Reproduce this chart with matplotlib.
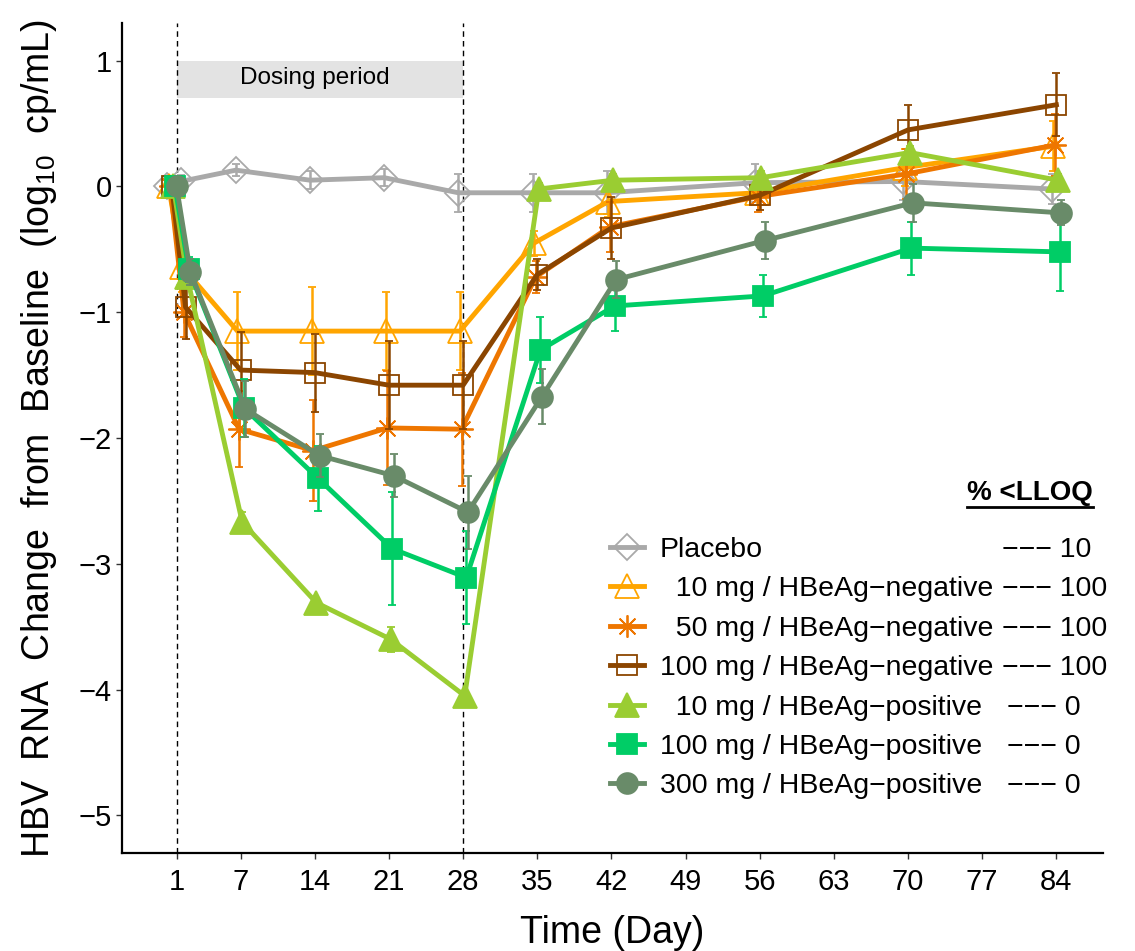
import matplotlib
matplotlib.use('Agg')
import matplotlib.pyplot as plt
from matplotlib.lines import Line2D
from matplotlib.patches import Rectangle

plt.rcParams.update({
    'font.family': ['Liberation Sans', 'DejaVu Sans'],
    'mathtext.fontset': 'custom',
    'mathtext.rm': 'Liberation Sans',
    'mathtext.it': 'Liberation Sans',
    'axes.unicode_minus': True,
})

# time points (days) and series data
days = [0.5, 1.8, 7, 14, 21, 28, 35, 42, 56, 70, 84]
x_ticks = [1, 7, 14, 21, 28, 35, 42, 49, 56, 63, 70, 77, 84]

labels = ['Placebo',
          '  10 mg / HBeAg\u2212negative',
          '  50 mg / HBeAg\u2212negative',
          '100 mg / HBeAg\u2212negative',
          '  10 mg / HBeAg\u2212positive',
          '100 mg / HBeAg\u2212positive',
          '300 mg / HBeAg\u2212positive']
pct_lloq = ['10', '100', '100', '100', '0', '0', '0']

placebo = [0, 0.04, 0.13, 0.05, 0.07, -0.05, -0.05, -0.05, 0.03, 0.04, -0.02]
neg_10 = [0, -0.64, -1.15, -1.15, -1.15, -1.15, -0.45, -0.12, -0.05, 0.15, 0.32]
neg_50 = [0, -1.0, -1.93, -2.1, -1.92, -1.93, -0.72, -0.32, -0.08, 0.1, 0.33]
neg_100 = [0, -0.96, -1.46, -1.48, -1.58, -1.58, -0.7, -0.33, -0.07, 0.45, 0.65]
pos_10 = [0, -0.72, -2.67, -3.31, -3.6, -4.05, -0.02, 0.05, 0.07, 0.27, 0.05]
pos_100 = [0, -0.66, -1.76, -2.32, -2.88, -3.11, -1.3, -0.95, -0.87, -0.49, -0.52]
pos_300 = [0, -0.68, -1.77, -2.14, -2.3, -2.59, -1.67, -0.74, -0.43, -0.13, -0.21]

placebo_se = [0, 0.05, 0.05, 0.07, 0.07, 0.15, 0.15, 0.17, 0.15, 0.15, 0.12]
neg_10_se = [0, 0.2, 0.31, 0.35, 0.31, 0.31, 0.1, 0.12, 0.1, 0.15, 0.2]
neg_50_se = [0, 0.2, 0.3, 0.4, 0.45, 0.45, 0.13, 0.2, 0.12, 0.2, 0.25]
neg_100_se = [0, 0.25, 0.3, 0.31, 0.35, 0.35, 0.12, 0.25, 0.12, 0.2, 0.25]
pos_10_se = [0, 0.05, 0.08, 0.04, 0.1, 0.03, 0.05, 0.05, 0.05, 0.05, 0.05]
pos_100_se = [0, 0.1, 0.23, 0.26, 0.45, 0.37, 0.26, 0.2, 0.17, 0.21, 0.31]
pos_300_se = [0, 0.1, 0.22, 0.17, 0.17, 0.29, 0.22, 0.15, 0.15, 0.15, 0.1]

series = [placebo, neg_10, neg_50, neg_100, pos_10, pos_100, pos_300]
errors = [placebo_se, neg_10_se, neg_50_se, neg_100_se, pos_10_se, pos_100_se, pos_300_se]

colors = ['#A9A9A9', '#FFA500', '#EE7600', '#8B4500', '#9ACD32', '#00CD66', '#698B69']
markers = ['D', '^', (8, 2, 0), 's', '^', 's', 'o']
msizes = [13, 17, 16, 14, 17, 15, 15]
filled = [False, False, False, False, True, True, True]
dodge = [-0.45, -0.3, -0.15, 0.0, 0.15, 0.3, 0.45]

W, H = 1135, 951
fig = plt.figure(figsize=(W / 100, H / 100), dpi=100)
ax = fig.add_axes([122 / W, 1 - 853 / H, (1103 - 122) / W, (853 - 23) / H])

handles = []
for i, ys in enumerate(series):
    xs = [d + dodge[i] for d in days]
    mfc = colors[i] if filled[i] else 'none'
    ax.errorbar(xs, ys, yerr=errors[i], color=colors[i], lw=3.5,
                marker=markers[i], markersize=msizes[i], mfc=mfc,
                mec=colors[i], mew=1.3, elinewidth=1.8, capsize=3,
                capthick=1.8, zorder=3 + i)
    handles.append(Line2D([], [], color=colors[i], lw=3.5, marker=markers[i],
                          markersize=msizes[i], mfc=mfc, mec=colors[i], mew=1.3))

# dosing period
ax.axvline(1, color='black', lw=1, ls=(0, (4, 3)), zorder=1)
ax.axvline(28, color='black', lw=1, ls=(0, (4, 3)), zorder=1)
ax.add_patch(Rectangle((1, 0.7), 27, 0.3, facecolor='#E3E3E3', edgecolor='none', zorder=0))
ax.text(14.0, 0.86, 'Dosing period', ha='center', va='center', fontsize=17.5)

ax.set_xlim(-4.2, 88.4)
ax.set_ylim(-5.3, 1.3)
ax.set_xticks(x_ticks)
ax.set_yticks(range(-5, 2))
ax.tick_params(labelsize=21, length=4.5, width=1, color='#333333', pad=3)
ax.tick_params(axis='x', pad=6)
for s in ['top', 'right']:
    ax.spines[s].set_visible(False)
for s in ['left', 'bottom']:
    ax.spines[s].set_linewidth(1.6)

ax.set_xlabel('Time (Day)', fontsize=27, labelpad=14)
ax.set_ylabel('HBV  RNA  Change  from  Baseline  (log$_{10}$  cp/mL)', fontsize=27, labelpad=14)

leg = ax.legend(handles, labels, loc='upper left', bbox_to_anchor=(610 / W, 1 - 537 / H),
                bbox_transform=fig.transFigure, frameon=False, fontsize=20.5,
                handlelength=1.2, handletextpad=0.55, labelspacing=0.47,
                borderpad=0, borderaxespad=0)

fig.canvas.draw()
for i, t in enumerate(leg.get_texts()):
    xd, yd = t.get_transform().transform(t.get_position())
    x_px = 1002 if i < 4 else 1007
    fx, fy = fig.transFigure.inverted().transform((x_px, yd))
    fig.text(fx, fy, '\u2212\u2212\u2212 ' + pct_lloq[i], fontsize=20.5, va=t.get_va(), ha='left')

hdr = fig.text(1093 / W, 1 - 493 / H, '% <LLOQ', fontsize=20, fontweight='bold', ha='right', va='center')
fig.canvas.draw()
bb = hdr.get_window_extent()
fig.add_artist(Line2D([bb.x0 / W, bb.x1 / W], [(bb.y0 - 1) / H, (bb.y0 - 1) / H],
                      color='black', lw=2, transform=fig.transFigure))

fig.savefig('out.png', dpi=100)
